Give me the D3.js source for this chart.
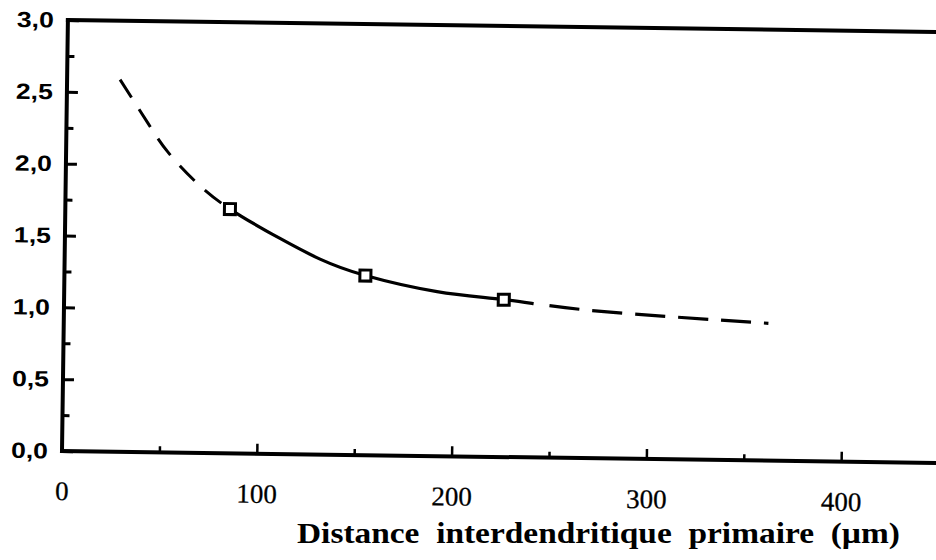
<!DOCTYPE html>
<html>
<head>
<meta charset="utf-8">
<script src="https://cdn.jsdelivr.net/npm/d3@7"></script>
<style>
  html, body { margin: 0; padding: 0; background: #fff; }
  svg { display: block; }
</style>
</head>
<body>
<svg id="chart" width="936" height="560"></svg>
<script>
// ---- data ----
const curveX = [27.2, 41.8, 52.3, 66.4, 84.5, 110.4, 131.1, 154.5, 191.4, 225.7, 265.4, 314.6, 361.7];
const curveY = [2.59, 2.29, 2.09, 1.89, 1.70, 1.50, 1.36, 1.25, 1.145, 1.095, 1.035, 0.99, 0.956];
const pointX = [84.5, 154.5, 225.7];
const pointY = [1.70, 1.25, 1.095];
const xTickValues = [0, 100, 200, 300, 400];
const xTickLabels = ["0", "100", "200", "300", "400"];
const xMinorValues = [50, 150, 250, 350, 450];
const yTickValues = [0, 0.5, 1.0, 1.5, 2.0, 2.5, 3.0];
const yTickLabels = ["0,0", "0,5", "1,0", "1,5", "2,0", "2,5", "3,0"];
const yMinorValues = [0.25, 0.75, 1.25, 1.75, 2.25, 2.75];
const xTitle = "Distance  interdendritique  primaire  (\u00B5m)";

// ---- layout ----
const svg = d3.select("#chart");
const originX = 62, originY = 451;
const tilt = 0.785; // the scanned figure is slightly rotated

const x = d3.scaleLinear().domain([0, 460]).range([0, 460 * 1.948]);
const y = d3.scaleLinear().domain([0, 3]).range([0, -431]);

const defs = svg.append("defs");
const firstPt = pointX[0], lastPt = pointX[pointX.length - 1];
defs.append("clipPath").attr("id", "clipLeft").append("rect")
  .attr("x", -50).attr("y", y(3.2)).attr("width", x(firstPt) + 50).attr("height", y(0) - y(3.2));
defs.append("clipPath").attr("id", "clipMid").append("rect")
  .attr("x", x(firstPt)).attr("y", y(3.2)).attr("width", x(lastPt) - x(firstPt)).attr("height", y(0) - y(3.2));
defs.append("clipPath").attr("id", "clipRight").append("rect")
  .attr("x", x(lastPt)).attr("y", y(3.2)).attr("width", x(460) - x(lastPt)).attr("height", y(0) - y(3.2));

const g = svg.append("g")
  .attr("transform", `translate(${originX},${originY}) rotate(${tilt})`);

// frame lines (left, bottom, top)
const frame = g.append("g").attr("stroke", "#000").attr("stroke-width", 4).attr("fill", "none")
  .attr("stroke-linecap", "square");
frame.append("line").attr("x1", x(0)).attr("y1", y(0)).attr("x2", x(0)).attr("y2", y(3));
frame.append("line").attr("x1", x(0)).attr("y1", y(0)).attr("x2", x(460)).attr("y2", y(0));
frame.append("line").attr("x1", x(0)).attr("y1", y(3)).attr("x2", x(460)).attr("y2", y(3));

// x axis major ticks
const xAxis = d3.axisBottom(x).tickValues(xTickValues).tickSize(-10)
  .tickFormat((d, i) => xTickLabels[i]).tickPadding(30);
const gx = g.append("g").call(xAxis);
gx.select(".domain").remove();
gx.selectAll(".tick line").attr("stroke", "#000").attr("stroke-width", 2.5);
gx.selectAll(".tick text")
  .attr("font-family", "'Liberation Serif', 'Times New Roman', serif")
  .attr("font-size", 27).attr("fill", "#000")
  .attr("stroke", "#000").attr("stroke-width", 0.3);

// x minor ticks
const gxm = g.append("g").call(d3.axisBottom(x).tickValues(xMinorValues).tickSize(-6).tickFormat(""));
gxm.select(".domain").remove();
gxm.selectAll(".tick line").attr("stroke", "#000").attr("stroke-width", 2.5);

// y axis major ticks
const yAxis = d3.axisLeft(y).tickValues(yTickValues).tickSize(-11)
  .tickFormat((d, i) => yTickLabels[i]).tickPadding(14);
const gy = g.append("g").call(yAxis);
gy.select(".domain").remove();
gy.selectAll(".tick line").attr("stroke", "#000").attr("stroke-width", 3);
gy.selectAll(".tick text")
  .attr("font-family", "'Liberation Sans', Arial, sans-serif")
  .attr("font-size", 22).attr("font-weight", "bold").attr("fill", "#000")
  .attr("textLength", 37).attr("lengthAdjust", "spacingAndGlyphs");

// y minor ticks
const gym = g.append("g").call(d3.axisLeft(y).tickValues(yMinorValues).tickSize(-7).tickFormat(""));
gym.select(".domain").remove();
gym.selectAll(".tick line").attr("stroke", "#000").attr("stroke-width", 3);

// curve (one smooth curve, shown dashed / solid / dashed by clipping)
const curveData = curveX.map((d, i) => ({ x: d, y: curveY[i] }));
const line = d3.line().x(d => x(d.x)).y(d => y(d.y)).curve(d3.curveNatural);
const pathD = line(curveData);

g.append("path").attr("d", pathD).attr("clip-path", "url(#clipLeft)")
  .attr("fill", "none").attr("stroke", "#000").attr("stroke-width", 3)
  .attr("stroke-dasharray", "21,14");
g.append("path").attr("d", pathD).attr("clip-path", "url(#clipMid)")
  .attr("fill", "none").attr("stroke", "#000").attr("stroke-width", 3.2);
const rightPath = g.append("path").attr("d", pathD).attr("clip-path", "url(#clipRight)")
  .attr("fill", "none").attr("stroke", "#000").attr("stroke-width", 3.2);
// right dashes start after a short solid run beyond the last marker
{
  const node = rightPath.node();
  const total = node.getTotalLength();
  let lo = 0, hi = total;
  const target = x(lastPt) + 30;
  for (let k = 0; k < 40; k++) {
    const mid = (lo + hi) / 2;
    if (node.getPointAtLength(mid).x < target) lo = mid; else hi = mid;
  }
  const pattern = [lo, 16];
  for (let k = 0; k < 12; k++) pattern.push(30, 13);
  rightPath.attr("stroke-dasharray", pattern.join(","));
}

// square markers
g.append("g").selectAll("rect").data(pointX.map((d, i) => ({ x: d, y: pointY[i] })))
  .join("rect")
  .attr("x", d => x(d.x) - 5.5).attr("y", d => y(d.y) - 5.5)
  .attr("width", 11).attr("height", 11)
  .attr("fill", "#fff").attr("stroke", "#000").attr("stroke-width", 3);

// axis title
svg.append("text")
  .attr("x", 297).attr("y", 543)
  .attr("font-family", "'Liberation Serif', 'Times New Roman', serif")
  .attr("font-weight", "bold").attr("font-size", 29).attr("fill", "#000")
  .attr("textLength", 603).attr("lengthAdjust", "spacingAndGlyphs")
  .style("white-space", "pre")
  .text(xTitle);
</script>
</body>
</html>
